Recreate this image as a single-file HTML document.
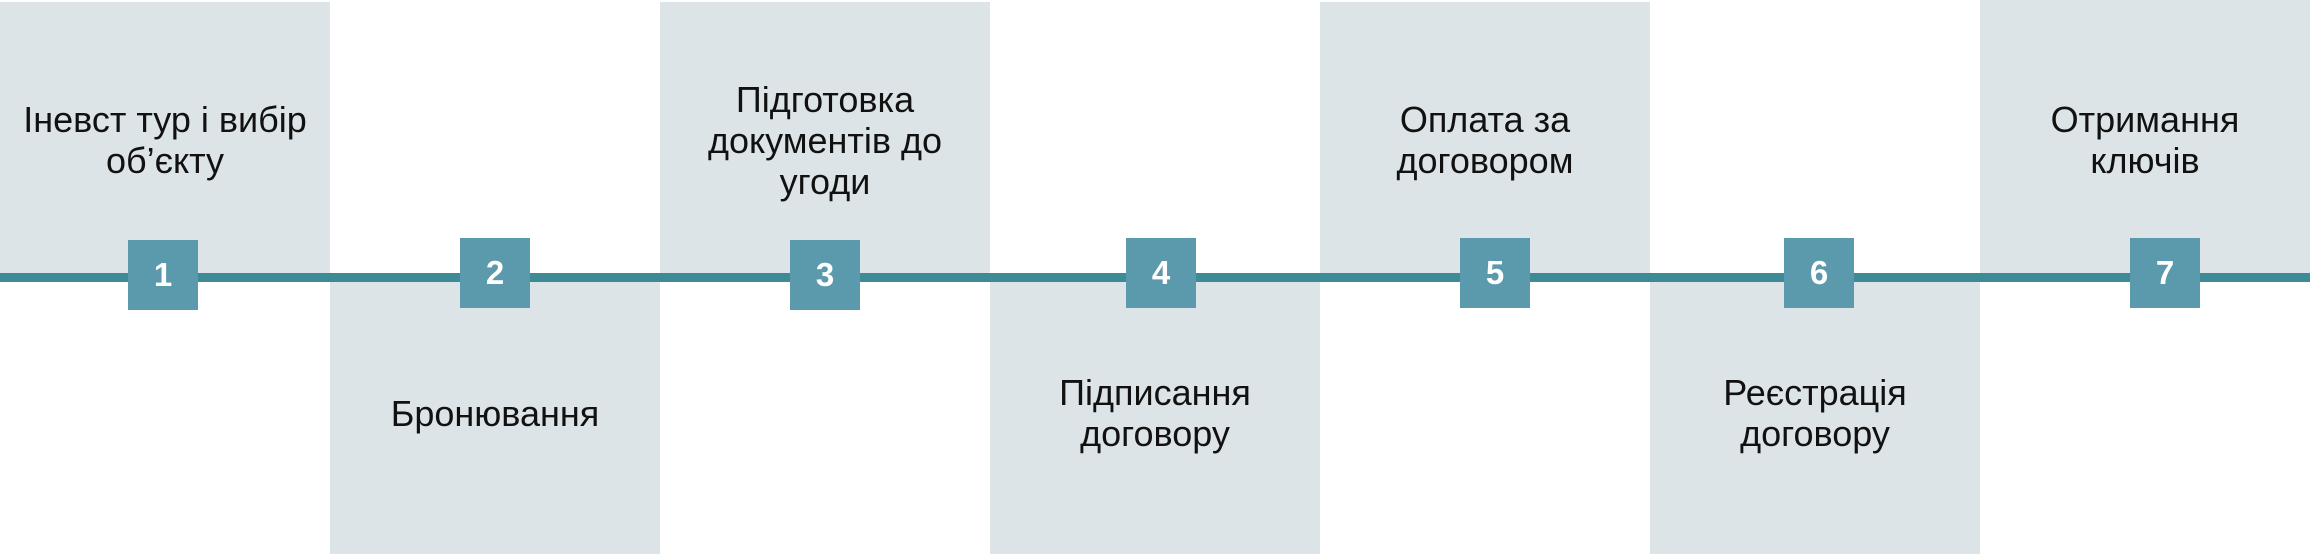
<!DOCTYPE html>
<html><head><meta charset="utf-8"><style>
html,body{margin:0;padding:0;width:2310px;height:554px;overflow:hidden;background:#fff;position:relative;font-family:"Liberation Sans",sans-serif;}
.box{position:absolute;width:330px;background:#dce4e7;}
.t{position:absolute;width:330px;display:flex;align-items:center;justify-content:center;text-align:center;font-size:36px;line-height:41px;color:#111;}
.line{position:absolute;left:0;top:273px;width:2310px;height:9px;background:#3d8b97;}
.b{position:absolute;width:70px;height:70px;background:#5b9aad;color:#fff;font-size:33px;font-weight:bold;display:flex;align-items:center;justify-content:center;}
</style></head><body>
<div class="box" style="left:0;top:2px;height:272px"></div>
<div class="box" style="left:660px;top:2px;height:272px"></div>
<div class="box" style="left:1320px;top:2px;height:272px"></div>
<div class="box" style="left:1980px;top:0;height:274px"></div>
<div class="box" style="left:330px;top:280px;height:274px"></div>
<div class="box" style="left:990px;top:280px;height:274px"></div>
<div class="box" style="left:1650px;top:280px;height:274px"></div>
<div class="line"></div>

<div class="t" style="left:0;top:0;height:280px">Іневст тур і вибір<br>об’єкту</div>
<div class="t" style="left:660px;top:0;height:280px">Підготовка<br>документів до<br>угоди</div>
<div class="t" style="left:1320px;top:0;height:280px">Оплата за<br>договором</div>
<div class="t" style="left:1980px;top:0;height:280px">Отримання<br>ключів</div>
<div class="t" style="left:330px;top:282px;height:262px">Бронювання</div>
<div class="t" style="left:990px;top:282px;height:262px">Підписання<br>договору</div>
<div class="t" style="left:1650px;top:282px;height:262px">Реєстрація<br>договору</div>

<div class="b" style="left:128px;top:240px">1</div>
<div class="b" style="left:460px;top:238px">2</div>
<div class="b" style="left:790px;top:240px">3</div>
<div class="b" style="left:1126px;top:238px">4</div>
<div class="b" style="left:1460px;top:238px">5</div>
<div class="b" style="left:1784px;top:238px">6</div>
<div class="b" style="left:2130px;top:238px">7</div>
</body></html>
